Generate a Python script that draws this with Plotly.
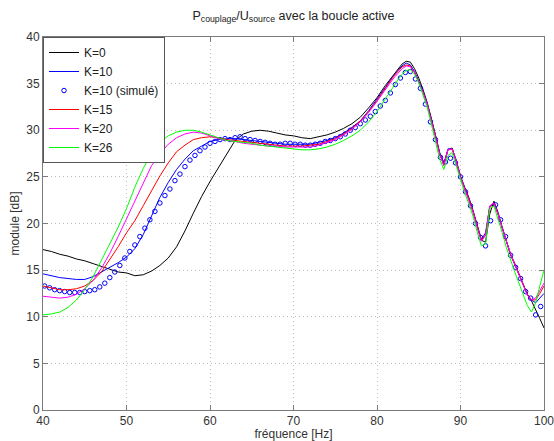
import plotly.graph_objects as go

# Frequencies for measured curves (Hz)
freq = [40, 41, 42, 43, 44, 45, 46, 47, 48, 49, 50, 51, 52, 53, 54, 55, 56, 57, 58, 59,
        60, 61, 62, 63, 64, 65, 66, 67, 68, 69, 70, 71, 72, 73, 74, 75, 76, 77, 78, 79,
        80, 81, 82, 82.5, 83, 83.5, 84, 84.5, 85, 85.5, 86, 86.5, 87, 87.5, 88, 88.5,
        89, 89.5, 90, 90.5, 91, 91.5, 92, 92.5, 93, 93.5, 94, 94.5, 95, 95.5, 96, 96.5,
        97, 97.5, 98, 98.5, 99, 99.5, 100]

k0 = [17.2, 17.0, 16.7, 16.5, 16.2, 16.0, 15.7, 15.4, 15.1, 14.8, 14.7, 14.4, 14.5, 14.9,
      15.5, 16.3, 17.5, 19.2, 21.1, 22.9, 24.5, 26.0, 27.5, 28.9, 29.6, 29.9, 30.0, 29.9,
      29.7, 29.5, 29.4, 29.2, 29.1, 29.3, 29.5, 29.8, 30.2, 30.7, 31.4, 32.4, 33.5, 34.8,
      36.0,
      36.6, 37.1, 37.4, 37.3, 36.6, 35.6, 34.4, 33.0, 31.3, 29.5, 27.6, 26.3, 27.9, 28.1,
      26.6, 25.0, 23.8, 22.7, 21.3, 19.6, 18.2, 18.0, 21.0, 22.4, 21.2, 19.6, 18.0, 16.6,
      15.6, 14.6, 13.5, 12.4, 11.7, 10.8, 9.8, 8.8]

k10 = [14.6, 14.4, 14.2, 14.1, 14.0, 14.0, 14.3, 14.8, 15.3, 15.8, 16.4, 17.3, 18.8, 20.8,
       22.8, 24.4, 25.8, 26.9, 27.8, 28.3, 28.8, 29.0, 29.1, 29.1, 29.0, 28.9, 28.8, 28.7,
       28.6, 28.5, 28.5, 28.5, 28.5, 28.7, 28.9, 29.2, 29.7, 30.3, 31.0, 32.1, 33.3, 34.6,
       35.9,
       36.4, 36.9, 37.2, 37.0, 36.3, 35.3, 34.2, 32.9, 31.3, 29.5, 27.6, 26.4, 28.0, 28.0,
       26.8, 25.1, 23.9, 22.8, 21.4, 19.7, 18.3, 19.0, 21.8, 22.2, 21.0, 19.5, 18.0, 16.7,
       15.7, 14.6, 13.5, 12.4, 11.8, 11.5, 12.0, 12.5]

k15 = [13.3, 13.1, 12.9, 12.9, 13.0, 13.3, 13.9, 14.8, 16.1, 17.5, 19.0, 20.3, 21.9, 23.5,
       25.1, 26.5, 27.7, 28.4, 29.0, 29.2, 29.3, 29.2, 29.0, 28.9, 28.8, 28.7, 28.6, 28.5,
       28.4, 28.3, 28.3, 28.3, 28.4, 28.5, 28.8, 29.1, 29.6, 30.2, 31.0, 32.0, 33.2, 34.5,
       35.8,
       36.3, 36.8, 37.0, 36.9, 36.2, 35.2, 34.1, 32.8, 31.2, 29.4, 27.5, 26.3, 27.9, 28.0,
       26.7, 25.0, 23.8, 22.7, 21.3, 19.6, 18.2, 18.8, 21.8, 22.2, 21.0, 19.5, 18.0, 16.7,
       15.7, 14.6, 13.5, 12.4, 11.8, 11.8, 12.5, 13.3]

k20 = [12.2, 12.1, 12.0, 12.1, 12.4, 13.0, 13.9, 15.2, 16.8, 18.6, 20.5, 22.5, 24.4, 26.2,
       27.5, 28.5, 29.2, 29.6, 29.8, 29.7, 29.4, 29.1, 28.9, 28.8, 28.6, 28.5, 28.4, 28.3,
       28.3, 28.2, 28.2, 28.2, 28.2, 28.4, 28.7, 29.0, 29.5, 30.1, 30.9, 31.9, 33.1, 34.4,
       35.6,
       36.1, 36.6, 36.9, 36.8, 36.2, 35.2, 34.1, 32.8, 31.1, 29.3, 27.4, 26.2, 27.9, 28.0,
       26.6, 24.9, 23.7, 22.6, 21.2, 19.5, 18.1, 18.7, 21.9, 22.2, 21.0, 19.5, 18.0, 16.7,
       15.6, 14.5, 13.4, 12.3, 11.8, 12.0, 12.8, 13.6]

k26 = [10.2, 10.3, 10.5, 11.0, 11.8, 12.9, 14.3, 16.1, 17.9, 19.6, 21.6, 23.9, 25.9, 27.5,
       28.7, 29.4, 29.8, 30.0, 30.0, 29.8, 29.5, 29.2, 28.9, 28.8, 28.7, 28.6, 28.4, 28.3,
       28.2, 28.1, 28.0, 27.9, 27.9, 28.0, 28.2, 28.5, 28.9, 29.4, 30.0, 30.9, 32.0, 33.4,
       34.7,
       35.4, 36.0, 36.4, 36.5, 36.0, 35.1, 33.9, 32.5, 30.7, 28.8, 26.9, 25.8, 27.3, 27.6,
       26.2, 24.6, 23.3, 22.1, 20.8, 19.1, 17.6, 17.8, 21.6, 21.9, 20.5, 19.0, 17.4, 16.0,
       14.8, 13.6, 12.4, 11.2, 10.5, 11.5, 13.3, 15.0]

# Simulated K=10 (circles)
freq_sim = [40.2, 40.8, 41.4, 42.0, 42.6, 43.2, 43.8, 44.4, 45.0, 45.6, 46.2, 46.8, 47.4,
            48.0, 48.6, 49.2, 49.8, 50.4, 51.0, 51.6, 52.2, 52.8, 53.4, 54.0, 54.6, 55.2,
            55.8, 56.4, 57.0, 57.6, 58.2, 58.8, 59.4, 60.0, 60.6, 61.2, 61.8, 62.4, 63.0,
            63.6, 64.2, 64.8, 65.4, 66.0, 66.6, 67.2, 67.8, 68.4, 69.0, 69.6, 70.2, 70.8,
            71.4, 72.0, 72.6, 73.2, 73.8, 74.4, 75.0, 75.6, 76.2, 76.8, 77.4, 78.0, 78.6,
            79.2, 79.8, 80.4, 81.0, 81.6, 82.2, 82.8, 83.4, 84.0, 84.6, 85.2, 85.8, 86.4,
            87.0, 87.6, 88.2, 88.8, 89.4, 90.0, 90.6, 91.2, 91.8, 92.4, 93.0, 93.6, 94.2,
            94.8, 95.4, 96.0, 96.6, 97.2, 97.8, 98.4, 99.0, 99.6]
k10_sim = [13.3, 13.1, 12.9, 12.8, 12.7, 12.6, 12.6, 12.6, 12.7, 12.8, 12.9, 13.2, 13.6,
           14.2, 14.8, 15.5, 16.3, 17.0, 17.7, 18.6, 19.5, 20.4, 21.3, 22.2, 23.0, 23.7,
           24.6, 25.3, 26.1, 26.8, 27.3, 27.8, 28.2, 28.6, 28.8, 29.0, 29.1, 29.0, 29.2,
           29.3, 29.1, 29.0, 28.9, 28.8, 28.7, 28.6, 28.5, 28.5, 28.6, 28.6, 28.5, 28.5,
           28.4, 28.4, 28.5, 28.6, 28.8, 28.9, 29.1, 29.3, 29.6, 30.0, 30.3, 30.7, 31.1,
           31.5, 32.0, 32.6, 33.2, 34.0, 34.9, 35.6, 36.2, 36.3, 35.5, 34.5, 32.8, 30.9,
           29.0, 27.1, 26.6, 27.0, 26.5, 25.0, 23.4, 21.9, 20.0, 18.5, 17.6, 20.3, 22.0,
           20.4, 18.6, 16.6, 15.3, 14.1, 12.7, 12.0, 10.2, 11.1]

x_ticks = [40, 50, 60, 70, 80, 90, 100]
y_ticks = [0, 5, 10, 15, 20, 25, 30, 35, 40]

FONT = "Liberation Sans, Arial, Helvetica, sans-serif"

fig = go.Figure()
fig.add_trace(go.Scatter(x=freq, y=k0, mode="lines", name="K=0",
                         line=dict(color="#000000", width=1)))
fig.add_trace(go.Scatter(x=freq, y=k10, mode="lines", name="K=10",
                         line=dict(color="#0000FF", width=1)))
fig.add_trace(go.Scatter(x=freq_sim, y=k10_sim, mode="markers", name="K=10 (simulé)",
                         marker=dict(symbol="circle-open", size=4.5, color="#0000FF",
                                     line=dict(width=1, color="#0000FF"))))
fig.add_trace(go.Scatter(x=freq, y=k15, mode="lines", name="K=15",
                         line=dict(color="#FF0000", width=1)))
fig.add_trace(go.Scatter(x=freq, y=k20, mode="lines", name="K=20",
                         line=dict(color="#FF00FF", width=1)))
fig.add_trace(go.Scatter(x=freq, y=k26, mode="lines", name="K=26",
                         line=dict(color="#00FF00", width=1)))

axis_common = dict(
    showline=True, linecolor="#7a7a7a", linewidth=1, mirror="ticks",
    ticks="inside", ticklen=5, tickcolor="#7a7a7a",
    showgrid=True, gridcolor="#bdbdbd", griddash="1px,3px", gridwidth=1,
    zeroline=False, automargin=False, ticklabeloverflow="allow",
    tickfont=dict(family=FONT, size=12, color="#333333"),
)

fig.update_layout(
    template="none",
    width=554, height=441,
    paper_bgcolor="white", plot_bgcolor="white",
    margin=dict(l=43, r=10, t=37, b=31, autoexpand=False),
    font=dict(family=FONT, size=12, color="#333333"),
    title=dict(text="P<sub>couplage</sub>/U<sub>source</sub> avec la boucle active",
               x=0.5, xref="paper", xanchor="center",
               y=0.965, yref="container", yanchor="middle",
               font=dict(family=FONT, size=12.5, color="#222222")),
    xaxis=dict(range=[40, 100], tickvals=x_ticks, ticktext=[str(v) for v in x_ticks],
               title=dict(text="fréquence [Hz]", standoff=2,
                          font=dict(family=FONT, size=12, color="#333333")),
               **axis_common),
    yaxis=dict(range=[0, 40], tickvals=y_ticks, ticktext=[str(v) for v in y_ticks],
               title=dict(text="module [dB]", standoff=4,
                          font=dict(family=FONT, size=12, color="#333333")),
               **axis_common),
    legend=dict(x=0, y=1, xanchor="left", yanchor="top",
                bgcolor="white", bordercolor="#555555", borderwidth=1,
                font=dict(family=FONT, size=12, color="#222222"),
                itemwidth=30, tracegroupgap=0),
    showlegend=True,
)

fig.write_html(
    "out.html",
    config={"displayModeBar": False},
    post_script="document.body.style.margin='0';document.body.style.padding='0';"
                "document.documentElement.style.overflow='hidden';",
)
